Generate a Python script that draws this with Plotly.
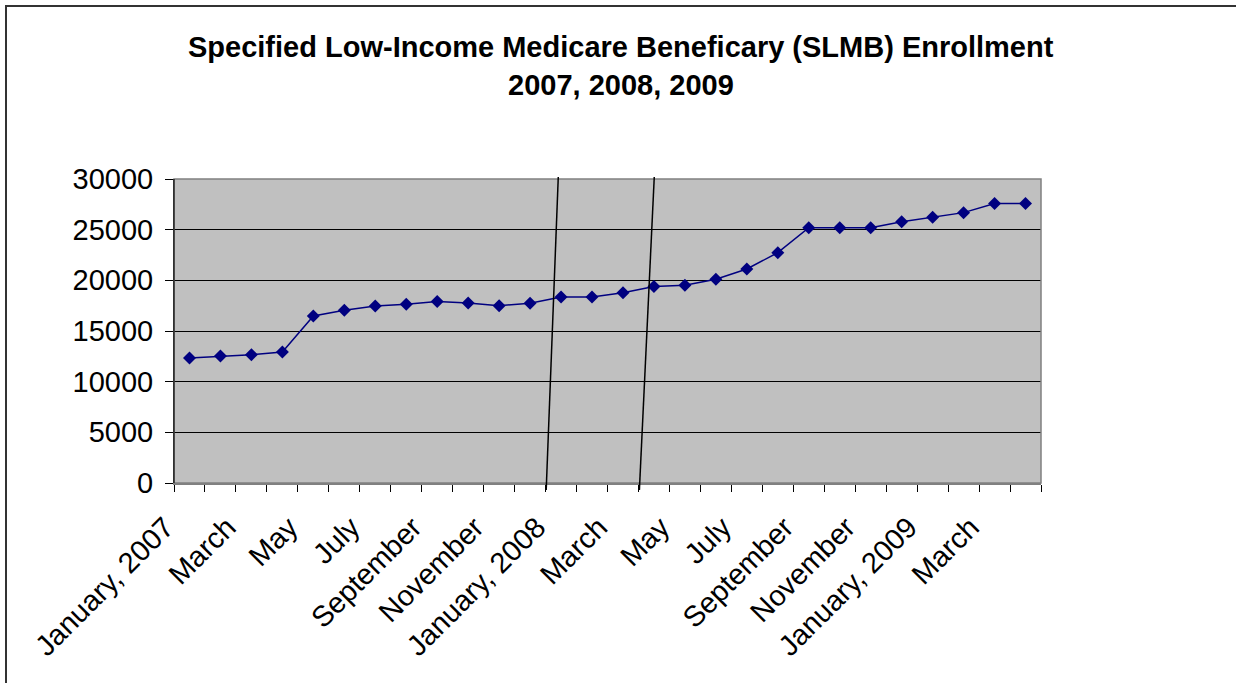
import plotly.graph_objects as go

months = ["January, 2007", "February", "March", "April", "May", "June", "July",
          "August", "September", "October", "November", "December",
          "January, 2008", "February", "March", "April", "May", "June", "July",
          "August", "September", "October", "November", "December",
          "January, 2009", "February", "March", "April"]
enrollment = [12340, 12530, 12660, 12930, 16480, 17040, 17470, 17640, 17900, 17760,
              17500, 17730, 18360, 18360, 18780, 19380, 19510, 20100, 21120, 22730,
              25200, 25200, 25200, 25790, 26220, 26680, 27570, 27570]
y_ticks = [0, 5000, 10000, 15000, 20000, 25000, 30000]
title_lines = ["Specified Low-Income Medicare Beneficary (SLMB) Enrollment",
               "2007, 2008, 2009"]

x_idx = list(range(len(months)))
label_idx = x_idx[::2]
label_text = [months[i] for i in label_idx]

FONT = "Liberation Sans, Arial, sans-serif"
PLOT_L, PLOT_R, PLOT_T, PLOT_B = 174, 1041, 179, 483
PW, PH = PLOT_R - PLOT_L, PLOT_B - PLOT_T

def px_x(p):
    return (p - PLOT_L) / PW

def px_y(p):
    return (PLOT_B - p) / PH

fig = go.Figure()
fig.add_trace(go.Scatter(
    x=x_idx, y=enrollment, mode="lines+markers",
    line=dict(color="#000080", width=1.5),
    marker=dict(symbol="diamond", size=10, color="#000080"),
    showlegend=False, hoverinfo="y"))

fig.update_layout(
    width=1236, height=683,
    margin=dict(l=PLOT_L, r=1236 - PLOT_R, t=PLOT_T, b=683 - PLOT_B),
    paper_bgcolor="white", plot_bgcolor="#C0C0C0",
    font=dict(family=FONT, color="black"),
)
for line, yc in zip(title_lines, [47, 85]):
    fig.add_annotation(text="<b>%s</b>" % line, xref="paper", yref="paper",
                       x=px_x(621), y=px_y(yc), xanchor="center", yanchor="middle",
                       showarrow=False, font=dict(family=FONT, size=29, color="black"))

fig.update_xaxes(
    range=[-0.5, len(months) - 0.5], tickvals=label_idx, ticktext=label_text,
    tickangle=-45, ticks="", tickfont=dict(size=29), showgrid=False,
    ticklabelshift=-24, ticklabelstandoff=14,
    showline=True, linecolor="#808080", linewidth=1.5, zeroline=False,
    minor=dict(tickmode="linear", tick0=-0.5, dtick=1, ticks="outside",
               ticklen=7, tickcolor="black", tickwidth=1, showgrid=False),
)
fig.update_yaxes(
    range=[0, 30000], tickvals=y_ticks, tickformat="d", tickfont=dict(size=29),
    ticks="outside", ticklen=8, tickcolor="black", ticklabelstandoff=6,
    showgrid=True, gridcolor="black", gridwidth=1, zeroline=False,
    showline=True, linecolor="black", linewidth=1,
)
# plot area border (top/right gray)
fig.add_shape(type="rect", xref="paper", yref="paper", x0=0, x1=1, y0=0, y1=1,
              line=dict(color="#808080", width=1.5), layer="above")
fig.add_shape(type="line", xref="paper", yref="paper", x0=0, x1=0, y0=0, y1=1,
              line=dict(color="black", width=1), layer="above")
# axis break marks
for (xt, xb) in [(11.91, 11.52), (15.01, 14.53)]:
    fig.add_shape(type="line", xref="x", yref="paper", x0=xb, x1=xt,
                  y0=px_y(490), y1=px_y(177),
                  line=dict(color="black", width=1.5), layer="above")
# outer chart frame
fig.add_shape(type="rect", xref="paper", yref="paper",
              x0=px_x(6), x1=1.5, y0=-1.5, y1=px_y(6),
              line=dict(color="#333333", width=2))

fig.write_html("out.html")
